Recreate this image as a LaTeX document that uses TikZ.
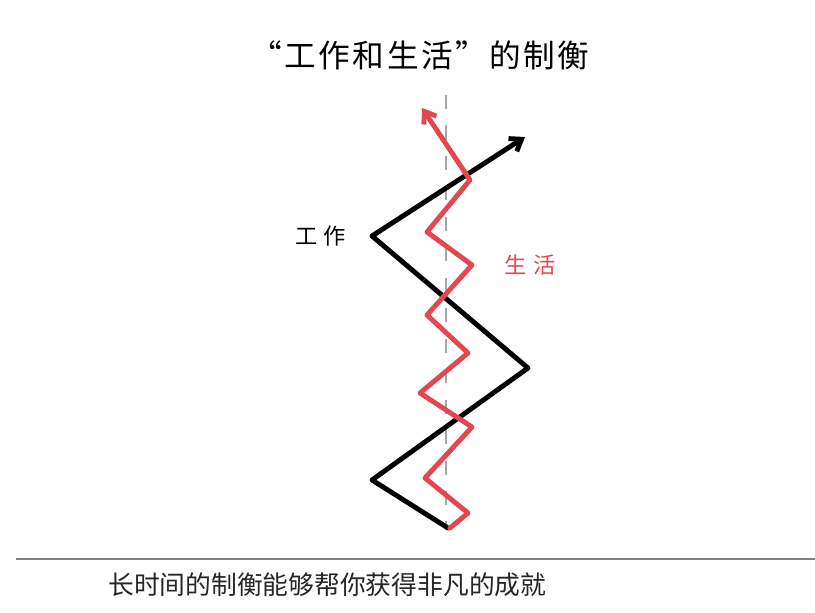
\documentclass[tikz,border=0pt]{standalone}
\usepackage{fontspec}
\newfontfamily\cjk{Noto Sans CJK SC}
\newfontfamily\cjkwide[LetterSpace=8]{Noto Sans CJK SC}
\newfontfamily\cjkloose[LetterSpace=28]{Noto Sans CJK SC}
\usetikzlibrary{arrows.meta}
\definecolor{lifered}{RGB}{226,72,84}
\tikzset{work/.style={line width=4.2pt, line join=round, line cap=round}}
\tikzset{life/.style={work, lifered}}
\tikzset{midline/.style={gray!70, line width=1.2pt, dash pattern=on 12pt off 14pt}}
\tikzset{lbl/.style={font=\cjkloose\fontsize{19}{22}\selectfont, inner sep=0}}

\begin{document}
\begin{tikzpicture}[x=0.03cm, y=-0.03cm]
      \useasboundingbox (0,0) rectangle (815,612);

      \node [font=\cjkwide\fontsize{27}{30}\selectfont] (title) at (420,55) {“工作和生活”的制衡};

      % middle axis
      \coordinate (top) at (446,95);
      \coordinate (bot) at (446,530);
      \draw [midline] (top) -- (bot);

      % work
      \coordinate (w0) at (448,528);
      \coordinate (w1) at (372,480);
      \coordinate (w2) at (528,368);
      \coordinate (w3) at (372,236);
      \coordinate (w4) at (525,137);
      \draw [work, -{Straight Barb[length=9pt, width=13pt]}]
        (w0) -- (w1) -- (w2) -- (w3) -- (w4);
      \node [lbl, left=22pt] (worklbl) at (w3) {工作};

      % life
      \coordinate (l0) at (450,528);
      \coordinate (l1) at (468,513);
      \coordinate (l2) at (425,478);
      \coordinate (l3) at (472,427);
      \coordinate (l4) at (420,393);
      \coordinate (l5) at (468,353);
      \coordinate (l6) at (427,315);
      \coordinate (l7) at (472,265);
      \coordinate (l8) at (427,232);
      \coordinate (l9) at (470,180);
      \coordinate (l10) at (422,108);
      \draw [life, -{Straight Barb[length=9pt, width=13pt]}]
        (l0) -- (l1) -- (l2) -- (l3) -- (l4) -- (l5) -- (l6) -- (l7)
        -- (l8) -- (l9) -- (l10);
      \node [lbl, lifered] (lifelbl) at (530,265) {生活};

      % caption
      \coordinate (ruleA) at (16,559);
      \coordinate (ruleB) at (815,559);
      \draw [gray, line width=0.9pt] (ruleA) -- (ruleB);
      \node [font=\cjk\fontsize{22}{26}\selectfont, anchor=west, inner sep=0, text=black!85] (caption) at (108,585) {长时间的制衡能够帮你获得非凡的成就};
    \end{tikzpicture}
\end{document}
